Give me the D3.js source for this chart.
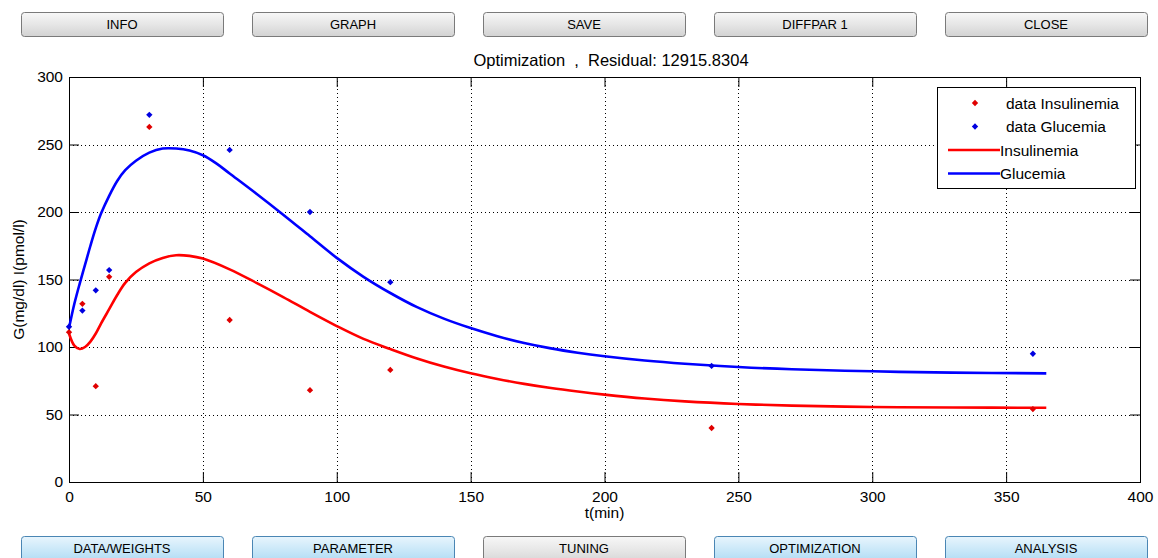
<!DOCTYPE html>
<html><head><meta charset="utf-8">
<script src="https://cdn.jsdelivr.net/npm/d3@7"></script>
<style>
body{margin:0;background:#fff;}
svg{display:block;font-family:"Liberation Sans",Arial,sans-serif;}
</style></head>
<body><svg id="c" width="1158" height="558"></svg>
<script>
const titleText = "Optimization  ,  Residual: 12915.8304";
const xLabel = "t(min)";
const yLabel = "G(mg/dl) I(pmol/l)";
const xTicks = [0,50,100,150,200,250,300,350,400];
const yTicks = [0,50,100,150,200,250,300];
const topButtons = ["INFO","GRAPH","SAVE","DIFFPAR 1","CLOSE"];
const bottomButtons = ["DATA/WEIGHTS","PARAMETER","TUNING","OPTIMIZATION","ANALYSIS"];
const bottomActive = [true,true,false,true,true];

// measured data
const dataTimeIns = [0,5,10,15,30,60,90,120,240,360];
const dataIns     = [111,132,71,152,263,120,68,83,40,54];
const dataTimeGlu = [0,5,10,15,30,60,90,120,240,360];
const dataGlu     = [115,127,142,157,272,246,200,148,86,95];

// model curves
const modelTimeIns = [0,2,4,6,8,10,12,15,18,21,25,30,35,40,45,50,60,70,80,90,100,110,120,130,140,150,160,170,180,190,200,215,230,250,270,300,330,365];
const modelIns     = [110,101,98.5,100,104,110,117.5,128,138.5,147.5,155.5,162,166,168,167.5,165.5,157.5,147.5,137,126,115.5,106,98.5,91.5,85.5,80.5,76.3,72.7,69.6,67,64.7,61.8,59.7,57.8,56.6,55.6,55.2,55];
const modelTimeGlu = [0,2,4,6,8,10,12,15,18,21,25,30,35,40,45,50,55,60,70,80,90,100,110,120,130,140,150,160,170,180,190,200,215,230,250,270,300,330,365];
const modelGlu     = [114,132,147,161,175,188,199,212,223,231,238,244,247,247,245.5,242,236,228.5,213.5,198,182,166,152,140,129.5,121,114,108,103,99,95.8,93.2,90,87.6,85.2,83.5,82,81,80.5];

const svg = d3.select("#c");
const L=69, R=1140, T=77, B=482;
const x = d3.scaleLinear().domain([0,400]).range([L,R]);
const y = d3.scaleLinear().domain([0,300]).range([B,T]);

// defs for button gradients
const defs = svg.append("defs");
const g1 = defs.append("linearGradient").attr("id","gray").attr("x1",0).attr("y1",0).attr("x2",0).attr("y2",1);
g1.append("stop").attr("offset","0").attr("stop-color","#f7f7f7");
g1.append("stop").attr("offset","0.5").attr("stop-color","#e6e6e6");
g1.append("stop").attr("offset","1").attr("stop-color","#d2d2d2");
const g2 = defs.append("linearGradient").attr("id","blue").attr("x1",0).attr("y1",0).attr("x2",0).attr("y2",1);
g2.append("stop").attr("offset","0").attr("stop-color","#e8f5fd");
g2.append("stop").attr("offset","0.5").attr("stop-color","#c8e7f8");
g2.append("stop").attr("offset","1").attr("stop-color","#a9d8f2");

const btnX = d3.scaleBand().domain(d3.range(5)).range([21,1147]).paddingInner(0.1255).paddingOuter(0);
function buttons(labels, y0, h, activeArr){
  const g = svg.append("g");
  labels.forEach((lab,i)=>{
    const bx = Math.round(btnX(i)), bw = Math.round(btnX.bandwidth());
    const act = activeArr && activeArr[i];
    g.append("rect").attr("x",bx+0.5).attr("y",y0+0.5).attr("width",bw).attr("height",h)
      .attr("rx",3).attr("fill", act ? "url(#blue)" : "url(#gray)")
      .attr("stroke", act ? "#4a86b4" : "#7a7a7a").attr("stroke-width",1);
    g.append("text").attr("x",bx+bw/2).attr("y",y0+17).attr("text-anchor","middle")
      .attr("font-size",13).attr("fill","#000").text(lab);
  });
}
buttons(topButtons, 12, 24, null);
buttons(bottomButtons, 536, 28, bottomActive);

// title
svg.append("text").attr("x",611).attr("y",66).attr("text-anchor","middle")
  .attr("font-size",16.5).style("white-space","pre").attr("xml:space","preserve").text(titleText);

// grid
const grid = svg.append("g").attr("stroke","#000").attr("stroke-width",1).attr("stroke-dasharray","1,3");
xTicks.slice(1,-1).forEach(v=>grid.append("line").attr("x1",Math.round(x(v))+0.5).attr("x2",Math.round(x(v))+0.5).attr("y1",T).attr("y2",B));
yTicks.slice(1,-1).forEach(v=>grid.append("line").attr("y1",Math.round(y(v))+0.5).attr("y2",Math.round(y(v))+0.5).attr("x1",L).attr("x2",R));

// axes
const ax = svg.append("g").attr("transform",`translate(0,${B})`)
  .call(d3.axisBottom(x).tickValues(xTicks).tickSize(-10).tickPadding(9).tickFormat(d3.format("d")));
const axT = svg.append("g").attr("transform",`translate(0,${T})`)
  .call(d3.axisTop(x).tickValues(xTicks).tickSize(-10).tickFormat(""));
const ay = svg.append("g").attr("transform",`translate(${L},0)`)
  .call(d3.axisLeft(y).tickValues(yTicks).tickSize(-10).tickPadding(6).tickFormat(d3.format("d")));
const ayR = svg.append("g").attr("transform",`translate(${R},0)`)
  .call(d3.axisRight(y).tickValues(yTicks).tickSize(-10).tickFormat(""));
[ax,axT,ay,ayR].forEach(a=>{
  a.select(".domain").remove();
  a.selectAll("line").attr("stroke","#000");
  a.selectAll("text").attr("font-size",15.5).attr("fill","#000").attr("font-family","Liberation Sans, Arial, sans-serif");
});
svg.append("rect").attr("x",L+0.5).attr("y",T+0.5).attr("width",R-L).attr("height",B-T)
  .attr("fill","none").attr("stroke","#000").attr("stroke-width",1);

// labels
svg.append("text").attr("x",(L+R)/2).attr("y",518).attr("text-anchor","middle").attr("font-size",15.5).text(xLabel);
svg.append("text").attr("transform",`translate(24,${(T+B)/2}) rotate(-90)`).attr("text-anchor","middle").attr("font-size",15.5).text(yLabel);

// curves
const line = d3.line().curve(d3.curveCatmullRom.alpha(0.5));
const insPts = modelTimeIns.map((t,i)=>[x(t),y(modelIns[i])]);
const gluPts = modelTimeGlu.map((t,i)=>[x(t),y(modelGlu[i])]);
svg.append("path").attr("d",line(insPts)).attr("fill","none").attr("stroke","#ff0000").attr("stroke-width",2.6);
svg.append("path").attr("d",line(gluPts)).attr("fill","none").attr("stroke","#0000ff").attr("stroke-width",2.6);

// data markers (small rotated squares)
const diamond = d3.symbol().type(d3.symbolSquare).size(20);
function pts(ts, vs, col){
  svg.append("g").selectAll("path").data(ts).join("path")
    .attr("transform",(d,i)=>`translate(${x(d)},${y(vs[i])}) rotate(45)`)
    .attr("d",diamond).attr("fill",col);
}
pts(dataTimeIns, dataIns, "#e00000");
pts(dataTimeGlu, dataGlu, "#0000e0");

// legend
const lg = svg.append("g");
lg.append("rect").attr("x",937.5).attr("y",87.5).attr("width",198).attr("height",101).attr("fill","#fff").attr("stroke","#000");
const legItems = [
  {label:"data Insulinemia", type:"pt", col:"#e00000"},
  {label:"data Glucemia", type:"pt", col:"#0000e0"},
  {label:"Insulinemia", type:"ln", col:"#ff0000"},
  {label:"Glucemia", type:"ln", col:"#0000ff"}
];
legItems.forEach((it,i)=>{
  const yy = 103 + i*23.5;
  if(it.type==="pt"){
    lg.append("path").attr("transform",`translate(975,${yy}) rotate(45)`).attr("d",diamond).attr("fill",it.col);
    lg.append("text").attr("x",1006).attr("y",yy+5.5).attr("font-size",15.5).text(it.label);
  } else {
    lg.append("line").attr("x1",948).attr("x2",1000).attr("y1",yy).attr("y2",yy).attr("stroke",it.col).attr("stroke-width",2.6);
    lg.append("text").attr("x",1000).attr("y",yy+5.5).attr("font-size",15.5).text(it.label);
  }
});
</script></body></html>
